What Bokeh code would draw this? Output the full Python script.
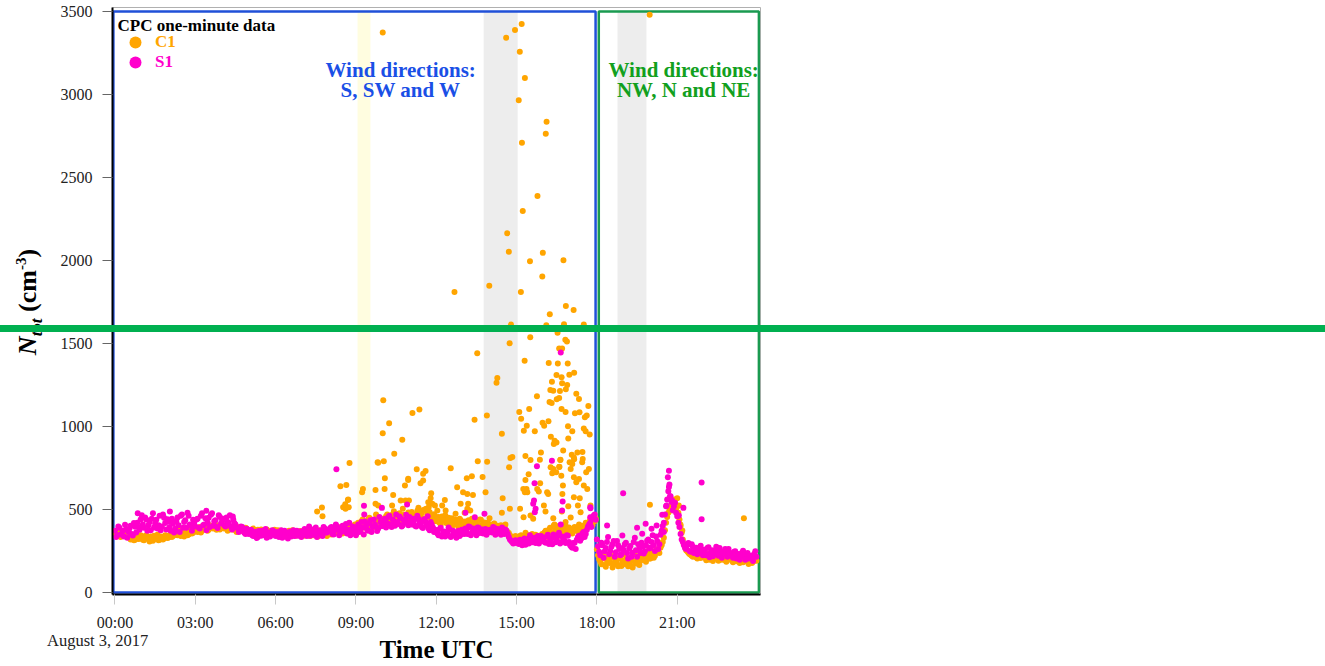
from bokeh.plotting import figure
from bokeh.layouts import column
from bokeh.models import (Range1d, FixedTicker, BoxAnnotation, Label, Legend, LegendItem, Div)
from bokeh.embed import file_html
from bokeh.resources import INLINE

# ---------------- data ----------------
# readings every 5 minutes (on the minute 0, 5, 10, ...) (cm^-3)
c1_base = [
    365, 342, 380, 355, 372, 340, 348, 320, 335, 318, 342, 325,
    330, 315, 345, 322, 338, 312, 330, 348, 318, 335, 325, 340,
    332, 350, 340, 365, 345, 372, 355, 338, 368, 350, 375, 360,
    380, 365, 395, 372, 388, 402, 378, 395, 385, 410, 392, 380,
    398, 385, 405, 378, 392, 388, 375, 395, 370, 382, 368, 385,
    372, 360, 385, 365, 378, 355, 370, 362, 380, 358, 372, 365,
    360, 375, 352, 368, 345, 362, 372, 350, 365, 342, 358, 370,
    355, 342, 368, 350, 372, 345, 360, 338, 375, 352, 365, 340,
    368, 350, 385, 362, 395, 372, 355, 390, 378, 405, 365, 382,
    395, 420, 375, 440, 405, 385, 450, 415, 395, 470, 425, 410,
    445, 420, 470, 432, 455, 490, 428, 462, 440, 505, 450, 425,
    462, 485, 440, 470, 510, 452, 495, 430, 468, 485, 445, 472,
    430, 455, 410, 442, 465, 420, 398, 448, 425, 410, 392, 435,
    405, 428, 390, 418, 445, 400, 425, 395, 438, 410, 392, 420,
    400, 385, 415, 395, 372, 405, 388, 410, 362, 345, 330, 322,
    335, 318, 345, 325, 360, 312, 338, 352, 328, 315, 342, 330,
    348, 372, 335, 390, 355, 410, 365, 342, 388, 360, 400, 375,
    380, 355, 395, 370, 410, 385, 365, 420, 395, 440, 405, 430,
    260, 200, 170, 235, 155, 215, 182, 150, 228, 175, 205, 160,
    190, 220, 158, 205, 150, 232, 180, 165, 212, 240, 185, 250,
    205, 245, 222, 260, 238, 285, 330, 420, 480, 520, 495, 560,
    520, 440, 360, 290, 255, 240, 228, 215, 245, 205, 232, 218,
    220, 195, 235, 210, 190, 225, 205, 240, 198, 215, 185, 228,
    205, 182, 215, 195, 178, 210, 190, 200, 172, 195, 185, 210,
]
# readings in between (minute 2.5, 7.5, ...)
c1_mid = [
    352, 372, 335, 362, 345, 355, 330, 342, 315, 338, 322, 345,
    318, 340, 328, 308, 325, 342, 322, 315, 338, 320, 345, 328,
    345, 335, 358, 348, 362, 340, 368, 352, 345, 372, 355, 368,
    372, 388, 362, 385, 395, 372, 405, 388, 398, 378, 402, 388,
    390, 402, 372, 395, 380, 400, 365, 388, 378, 372, 390, 362,
    365, 378, 352, 372, 362, 380, 350, 368, 372, 362, 355, 378,
    368, 350, 372, 355, 365, 348, 360, 375, 355, 365, 348, 362,
    348, 362, 355, 340, 365, 358, 348, 370, 345, 368, 350, 362,
    358, 378, 365, 388, 368, 382, 398, 365, 395, 380, 392, 410,
    410, 385, 430, 398, 422, 440, 402, 432, 418, 445, 398, 438,
    432, 460, 445, 418, 472, 440, 455, 478, 425, 468, 438, 482,
    448, 472, 455, 492, 465, 478, 445, 505, 455, 470, 432, 460,
    445, 420, 458, 432, 418, 450, 428, 405, 440, 418, 445, 410,
    418, 398, 435, 410, 425, 392, 415, 440, 405, 422, 398, 412,
    392, 408, 378, 402, 392, 385, 398, 372, 358, 338, 325, 340,
    322, 340, 315, 338, 325, 345, 320, 335, 348, 325, 338, 352,
    362, 345, 378, 362, 395, 372, 385, 358, 372, 395, 382, 392,
    368, 385, 378, 395, 372, 402, 392, 410, 425, 415, 428, 445,
    225, 185, 205, 165, 195, 178, 210, 168, 192, 158, 215, 185,
    172, 198, 182, 160, 190, 175, 202, 192, 225, 195, 218, 205,
    228, 210, 255, 242, 270, 305, 375, 455, 505, 545, 525, 505,
    480, 400, 320, 272, 248, 232, 222, 238, 212, 225, 208, 225,
    208, 225, 198, 220, 205, 215, 192, 228, 210, 195, 222, 202,
    192, 205, 188, 200, 195, 182, 205, 185, 198, 178, 205, 192,
]
s1_base = [
    372, 345, 390, 352, 338, 380, 365, 402, 344, 396, 420, 378,
    465, 390, 440, 405, 375, 478, 415, 385, 462, 398, 450, 380,
    430, 372, 415, 385, 452, 365, 470, 425, 390, 462, 402, 438,
    398, 445, 385, 478, 410, 375, 450, 468, 402, 435, 388, 455,
    430, 405, 452, 418, 396, 440, 410, 388, 372, 395, 360, 384,
    352, 378, 340, 366, 335, 358, 372, 345, 330, 362, 348, 370,
    340, 365, 352, 330, 372, 348, 360, 338, 375, 350, 342, 368,
    355, 382, 340, 398, 365, 348, 392, 360, 374, 340, 385, 362,
    370, 395, 350, 410, 378, 362, 402, 385, 356, 420, 372, 390,
    345, 410, 372, 392, 428, 380, 415, 365, 440, 398, 385, 425,
    400, 445, 418, 462, 395, 430, 470, 412, 448, 405, 438, 420,
    455, 410, 432, 398, 445, 420, 388, 430, 402, 375, 410, 365,
    372, 345, 390, 355, 338, 365, 380, 342, 360, 330, 372, 350,
    368, 385, 352, 395, 362, 378, 345, 390, 370, 355, 382, 360,
    378, 362, 390, 355, 372, 348, 365, 380, 352, 320, 305, 298,
    310, 292, 315, 300, 288, 322, 345, 302, 330, 315, 295, 340,
    325, 300, 348, 312, 290, 335, 318, 360, 305, 328, 298, 342,
    285, 270, 300, 318, 342, 325, 365, 352, 398, 420, 445, 470,
    320, 245, 300, 210, 268, 335, 250, 290, 215, 310, 262, 230,
    255, 300, 205, 280, 240, 330, 215, 262, 300, 235, 285, 320,
    270, 345, 250, 310, 290, 372, 420, 520, 610, 580, 495, 540,
    460, 395, 320, 285, 262, 298, 245, 275, 255, 230, 268, 240,
    258, 225, 272, 240, 218, 255, 232, 268, 210, 245, 228, 262,
    235, 210, 248, 225, 198, 240, 215, 230, 205, 222, 190, 248,
]
s1_mid = [
    335, 398, 350, 372, 408, 330, 385, 352, 418, 362, 395, 440,
    410, 452, 372, 425, 445, 392, 438, 405, 375, 470, 418, 442,
    395, 445, 362, 430, 405, 462, 390, 435, 480, 410, 372, 420,
    440, 392, 462, 405, 448, 422, 395, 478, 430, 398, 465, 415,
    445, 398, 425, 465, 380, 418, 392, 365, 398, 372, 352, 368,
    372, 345, 360, 328, 370, 342, 355, 382, 348, 338, 375, 352,
    362, 335, 375, 348, 355, 325, 368, 352, 340, 372, 358, 335,
    372, 348, 365, 342, 380, 358, 335, 372, 350, 395, 362, 378,
    388, 352, 375, 398, 345, 390, 368, 412, 378, 345, 398, 365,
    392, 365, 425, 350, 402, 372, 435, 395, 410, 370, 455, 402,
    428, 392, 455, 410, 440, 402, 425, 458, 398, 432, 468, 405,
    425, 445, 402, 462, 418, 395, 442, 410, 385, 425, 392, 378,
    355, 382, 338, 368, 352, 392, 335, 372, 348, 365, 340, 378,
    352, 372, 398, 345, 385, 365, 392, 358, 380, 365, 348, 375,
    365, 395, 348, 382, 360, 392, 352, 370, 335, 312, 295, 315,
    298, 318, 285, 325, 305, 295, 330, 312, 298, 340, 308, 322,
    305, 338, 292, 325, 350, 302, 342, 295, 338, 312, 345, 305,
    275, 298, 262, 335, 312, 355, 335, 378, 410, 395, 462, 438,
    278, 225, 285, 248, 305, 230, 275, 310, 242, 285, 225, 268,
    290, 238, 265, 215, 305, 255, 290, 238, 275, 248, 312, 265,
    305, 285, 338, 262, 348, 400, 470, 560, 650, 545, 520, 480,
    420, 352, 305, 268, 285, 250, 290, 238, 270, 248, 282, 225,
    240, 268, 212, 255, 232, 275, 222, 248, 235, 262, 215, 240,
    222, 245, 205, 232, 215, 252, 198, 238, 218, 205, 232, 215,
]
# isolated one-minute readings (time in hours UTC, value)
c1_extra_t = [
    15.19, 14.94, 14.61, 15.12, 15.31, 15.08, 16.12, 16.09, 15.20, 15.78, 15.23, 14.65,
    14.71, 15.98, 15.50, 16.75, 15.96, 12.68, 13.98, 15.16, 16.84, 17.13, 16.24, 19.97, 10.00,
    14.79, 16.11, 16.77, 17.51, 16.53, 15.51, 16.82, 16.88, 14.74, 16.59, 16.70, 13.53,
    15.30, 16.20, 16.54, 16.91, 17.15, 16.97, 16.49, 16.68, 16.32, 16.70, 16.89, 14.28,
    14.25, 16.26, 16.37, 16.62, 16.84, 17.23, 17.33, 15.76, 16.23, 16.31, 16.50, 16.59,
    10.02, 11.11, 11.37, 10.24, 10.00, 10.73, 10.43, 9.81, 10.04, 8.76,
    13.89, 13.43, 14.45, 13.55, 13.90, 14.77, 14.84, 14.72, 15.10, 15.17, 15.47, 15.27,
    15.38, 15.68, 15.97, 16.03, 16.19, 16.68, 16.83, 17.18, 17.35, 17.55, 17.62, 17.68,
    17.73, 17.51, 17.58, 16.92, 17.08, 16.93, 16.28, 16.42, 16.49, 16.74, 15.91, 15.52,
    15.87, 15.33, 17.27, 17.46, 17.15, 17.06, 17.47, 16.63, 16.59, 16.37, 15.45, 16.98,
    12.54, 11.27, 11.60, 11.51, 13.14, 13.33, 13.73, 10.95, 10.08,
    8.42, 8.64, 7.55, 7.73, 7.75, 8.71, 8.73, 8.61, 9.83, 9.73, 9.26, 9.23, 8.52, 8.60,
    9.73, 9.83, 10.07, 10.39, 10.35, 10.67, 10.85, 10.98, 10.83, 10.95, 11.41, 11.51,
    11.70, 11.79, 11.57, 11.72, 11.85, 11.95, 11.66, 12.04, 11.81, 12.32, 12.35, 12.22,
    12.78, 13.00, 13.16, 13.37, 12.91, 12.72, 13.06, 13.19, 13.16, 13.27, 13.84, 13.99,
    14.15, 14.28, 14.48, 14.75, 14.45, 15.13, 15.26, 15.33, 15.37, 15.40, 15.88, 15.77,
    15.83, 16.02, 16.08, 16.14, 16.18, 16.39, 16.27, 16.33, 16.60, 16.48, 16.67, 16.64,
    16.73, 16.71, 16.37, 16.69, 17.14, 17.08, 17.45, 17.02, 17.23, 17.33, 17.14, 17.51,
    17.64, 17.60, 17.70, 17.14, 17.36, 17.29, 17.39, 17.76, 16.93, 17.02, 16.83, 16.39,
    16.58, 15.25, 15.31, 15.52, 15.62, 8.70,
    19.98, 23.49, 21.00, 20.91, 21.06, 21.12, 21.19, 20.75,
]
c1_extra_v = [
    3424, 3388, 3342, 3258, 3100, 2966, 2836, 2764, 2710, 2388, 2298, 2164,
    2052, 2046, 1996, 2002, 1904, 1810, 1848, 1810, 1726, 1702, 1676, 3480, 3374,
    1614, 1610, 1616, 1614, 1564, 1538, 1522, 1512, 1502, 1470, 1470, 1442,
    1396, 1382, 1380, 1380, 1324, 1312, 1310, 1296, 1270, 1260, 1250, 1292,
    1264, 1220, 1216, 1214, 1224, 1198, 1166, 1182, 1148, 1142, 1164, 1172,
    1158, 1082, 1102, 1020, 960, 920, 836, 784, 790, 780,
    1066, 1040, 956, 790, 788, 810, 816, 754, 1088, 1046, 1106, 974,
    1004, 972, 1022, 1004, 1032, 1106, 1088, 1080, 1086, 1056, 1066, 1124,
    952, 988, 972, 1002, 972, 928, 938, 914, 904, 856, 844, 798,
    800, 822, 844, 846, 802, 830, 804, 798, 756, 744, 712, 784,
    748, 742, 732, 716, 688, 700, 696, 686, 688,
    640, 648, 488, 512, 460, 560, 514, 504, 782, 618, 624, 604, 514, 532,
    534, 524, 624, 588, 524, 554, 554, 554, 644, 678, 658, 674,
    544, 568, 500, 514, 534, 524, 494, 494, 598, 558, 494, 524,
    634, 604, 594, 588, 534, 474, 480, 534, 504, 494, 604, 448,
    414, 394, 568, 504, 480, 504, 454, 678, 624, 604, 658, 624,
    608, 524, 488, 604, 594, 894, 754, 718, 758, 724, 704, 800,
    644, 594, 448, 488, 814, 774, 784, 744, 664, 684, 694, 644,
    624, 724, 744, 574, 568, 524, 484, 524, 520, 452, 424, 404,
    400, 624, 604, 464, 444, 558,
    528, 448, 568, 544, 524, 410, 374, 494,
]
s1_extra_t = [
    16.65, 16.32, 15.76, 8.27, 9.30, 9.31, 15.67, 15.65, 15.62, 15.71, 15.68, 16.72,
    16.65, 16.70, 17.76, 17.75, 17.75, 13.80, 13.44, 13.09, 10.91, 11.68, 9.97,
    18.98, 21.91, 21.91, 20.69, 20.65, 20.69, 20.73, 20.81, 20.44, 20.60, 21.06, 21.23,
    19.50, 19.82, 20.04, 20.23, 19.69, 20.50, 18.38, 18.95, 0.85, 2.05, 3.41, 4.40,
]
s1_extra_v = [
    1446, 794, 760, 742, 522, 470, 658, 554, 534, 504, 484, 548,
    410, 494, 508, 454, 514, 474, 454, 480, 530, 460, 510,
    598, 662, 442, 734, 694, 636, 580, 554, 468, 524, 464, 510,
    390, 414, 384, 404, 354, 364, 404, 344, 478, 488, 492, 458,
]
tick_hours = [0, 3, 6, 9, 12, 15, 18, 21]
tick_labels = ["00:00", "03:00", "06:00", "09:00", "12:00", "15:00", "18:00", "21:00"]
y_ticks = [0, 500, 1000, 1500, 2000, 2500, 3000, 3500]
# highlighted periods (hours)
yellow_band = (9.06, 9.54)
gray_bands = [(13.77, 15.04), (18.77, 19.85)]
sector_sw = (-0.06, 17.95)
sector_n = (18.07, 24.05)
rule_level = 1593   # level of the green horizontal rule (cm^-3)

step_h = 5 / 60
grid_t = [i * step_h for i in range(len(c1_base))]
mid_t = [(i + 0.5) * step_h for i in range(len(c1_mid))]
c1_t = grid_t + mid_t + c1_extra_t
c1_v = c1_base + c1_mid + c1_extra_v
s1_t = grid_t + mid_t + s1_extra_t
s1_v = s1_base + s1_mid + s1_extra_v

SERIF = "Liberation Serif"
ORANGE = "#FFA500"
MAGENTA = "#FF00CC"

W, H = 1325, 665
FL, FR, FT, FB = 112, 760, 7, 596   # frame edges in page pixels
Y0, Y1 = -12, 3524
DX, DY = -5, -5                      # offset of the HTML overlay origin

p = figure(width=W, height=H, output_backend="svg", toolbar_location=None,
           x_range=Range1d(-0.093, 24.11), y_range=Range1d(Y0, Y1),
           min_border_left=FL, min_border_right=W - FR, min_border_top=FT,
           min_border_bottom=H - FB)
p.background_fill_color = "white"
p.border_fill_color = "white"
p.outline_line_color = "#b0b0b0"
p.outline_line_width = 1
p.xgrid.visible = False
p.ygrid.visible = False


def val(py):
    # page pixel row -> data value
    return Y1 - (py - FT) * ((Y1 - Y0) / (FB - FT))


# bands
p.add_layout(BoxAnnotation(left=yellow_band[0], right=yellow_band[1], bottom=0, top=3500,
                           fill_color="#FFFDE0", fill_alpha=1, line_alpha=0, level="underlay"))
for a, b in gray_bands:
    p.add_layout(BoxAnnotation(left=a, right=b, bottom=0, top=3500,
                               fill_color="#EDEDED", fill_alpha=1, line_alpha=0, level="underlay"))
# sectors
p.add_layout(BoxAnnotation(left=sector_sw[0], right=sector_sw[1], bottom=0, top=3500,
                           fill_alpha=0, line_color="#2050D8", line_alpha=1, line_width=2.5,
                           level="underlay"))
p.add_layout(BoxAnnotation(left=sector_n[0], right=sector_n[1], bottom=0, top=3500,
                           fill_alpha=0, line_color="#1A9A50", line_alpha=1, line_width=2.5,
                           level="underlay"))

r_c1 = p.scatter(c1_t, c1_v, size=6, color=ORANGE, line_alpha=0)
r_s1 = p.scatter(s1_t, s1_v, size=6, color=MAGENTA, line_alpha=0)

# axes
for ax in (p.xaxis[0], p.yaxis[0]):
    ax.axis_line_color = "black"
    ax.axis_line_width = 2
    ax.major_tick_in = 0
    ax.major_tick_out = 10
    ax.minor_tick_line_color = None
    ax.major_label_text_font = SERIF
    ax.major_label_text_font_size = "16px"
    ax.major_label_text_color = "#222222"
p.xaxis.ticker = FixedTicker(ticks=tick_hours)
p.xaxis.major_label_overrides = {h: s for h, s in zip(tick_hours, tick_labels)}
p.xaxis.major_tick_line_color = "#c8c8c8"
p.xaxis.major_label_standoff = 9
p.xaxis.axis_label = "Time UTC"
p.xaxis.axis_label_text_font = SERIF
p.xaxis.axis_label_text_font_size = "25px"
p.xaxis.axis_label_text_font_style = "bold"
p.xaxis.axis_label_text_color = "black"
p.xaxis.axis_label_standoff = 2
p.yaxis.ticker = FixedTicker(ticks=y_ticks)
p.yaxis.major_tick_line_color = "#666666"
p.yaxis.major_label_standoff = 10

# wind sector notes
for txt, py in (("Wind directions:", 70), ("S, SW and W", 90)):
    p.add_layout(Label(x=10.67, y=val(py), text=txt, text_align="center", text_baseline="middle",
                       text_font=SERIF, text_font_size="21px", text_font_style="bold",
                       text_color="#1A4FE6"))
for txt, py in (("Wind directions:", 70), ("NW, N and NE", 90)):
    p.add_layout(Label(x=21.24, y=val(py), text=txt, text_align="center", text_baseline="middle",
                       text_font=SERIF, text_font_size="21px", text_font_style="bold",
                       text_color="#12A01E"))

# legend
p.add_layout(Label(x=p.x_range.start, y=val(25), x_offset=5, text="CPC one-minute data",
                   text_align="left", text_baseline="middle", text_font=SERIF,
                   text_font_size="17px", text_font_style="bold", text_color="black"))
for r, name, col, py in ((r_c1, "C1", ORANGE, 44), (r_s1, "S1", MAGENTA, 64)):
    lg = Legend(items=[LegendItem(label=name, renderers=[r])], location=(8, FB - (py + 15)),
                glyph_width=30, glyph_height=30, padding=0, margin=0, spacing=0,
                label_standoff=5, border_line_alpha=0, background_fill_alpha=0,
                label_text_font=SERIF, label_text_font_size="17px", label_text_font_style="bold",
                label_text_color=col, label_height=30)
    p.add_layout(lg)

# texts and rule that lie outside the plot frame (HTML overlays)
rule_y = FT + (Y1 - rule_level) * ((FB - FT) / (Y1 - Y0))
ylab = Div(text="<b><i>N</i><sub style='font-size:17px'><i>tot</i></sub> (cm"
                "<sup style='font-size:15px'>-3</sup>)</b>",
           width=150, height=34,
           styles={"position": "absolute", "left": f"{-54 + DX}px", "top": f"{285 + DY}px",
                   "transform": "rotate(-90deg)", "font-family": SERIF, "font-size": "26px",
                   "color": "black", "text-align": "center", "line-height": "34px",
                   "white-space": "nowrap", "z-index": "5"})
date_div = Div(text="August 3, 2017", width=130, height=18,
               styles={"position": "absolute", "left": f"{47 + DX}px", "top": f"{632 + DY}px",
                       "font-family": SERIF, "font-size": "16.5px", "color": "#222222",
                       "line-height": "18px", "white-space": "nowrap", "z-index": "5"})
rule = Div(text="", width=1329, height=7,
           styles={"position": "absolute", "left": f"{DX}px",
                   "top": f"{rule_y - 3.5 + DY:.1f}px",
                   "background-color": "#00B050", "z-index": "6"})

page = column(p, ylab, date_div, rule)
open("out.html", "w").write(file_html(page, INLINE))
